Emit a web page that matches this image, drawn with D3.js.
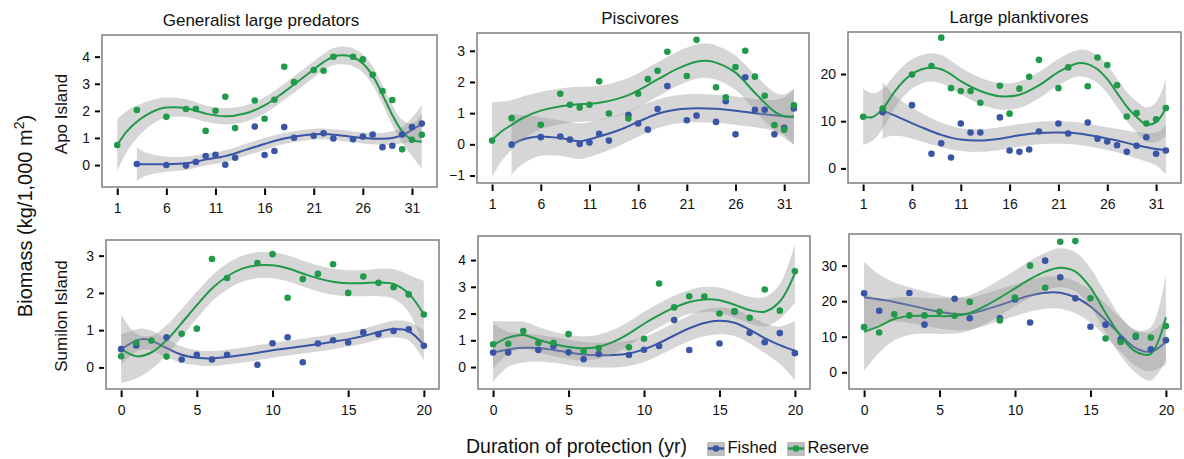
<!DOCTYPE html>
<html>
<head>
<meta charset="utf-8">
<script src="https://cdn.jsdelivr.net/npm/d3@7"></script>
<style>
  body { margin: 0; background: #fff; }
  svg { display: block; font-family: "Liberation Sans", Arial, Helvetica, sans-serif; }
</style>
</head>
<body>
<svg id="chart" width="1184" height="459"></svg>
<script>
// columns / rows of the grid
var groups = ["Generalist large predators", "Piscivores", "Large planktivores"];
var sites = ["Apo Island", "Sumilon Island"];
var seriesNames = ["Fished", "Reserve"];

// tick labels
var apoTicksX = [1, 6, 11, 16, 21, 26, 31];
var sumTicksX = [0, 5, 10, 15, 20];
var yTicks = [[0, 1, 2, 3, 4], [-1, 0, 1, 2, 3], [0, 10, 20], [0, 1, 2, 3], [0, 1, 2, 3, 4], [0, 10, 20, 30]];

// observed biomass, [year, value]
var apoPredFished = [[3,0.04],[6,0.0],[8,-0.02],[9,0.11],[10,0.33],[11,0.38],[12,0.01],[13,0.27],[15,1.42],[16,0.37],[17,0.52],[18,1.40],[19,1.01],[21,1.08],[22,1.17],[23,0.98],[25,0.95],[26,1.05],[27,1.13],[28,0.66],[29,0.71],[30,1.13],[31,1.40],[32,1.53]];
var apoPredReserve = [[1,0.74],[3,2.03],[6,1.78],[8,2.07],[9,2.07],[10,1.26],[11,2.0],[12,2.52],[13,1.37],[15,2.38],[16,1.71],[17,2.41],[18,3.63],[19,3.06],[21,3.51],[22,3.48],[23,4.0],[25,4.0],[26,3.9],[27,3.33],[28,2.73],[29,2.40],[30,0.58],[31,0.93],[32,1.12]];
var apoPiscFished = [[3,-0.01],[6,0.23],[8,0.25],[9,0.15],[10,0.01],[11,0.06],[12,0.34],[13,0.12],[15,0.94],[16,0.67],[17,0.47],[18,1.13],[19,1.87],[21,0.77],[22,0.92],[24,0.72],[25,1.38],[26,0.32],[27,2.15],[28,1.11],[29,1.11],[30,0.32],[31,0.53],[32,1.15]];
var apoPiscReserve = [[1,0.12],[3,0.84],[6,0.63],[8,1.62],[9,1.27],[10,1.18],[11,1.27],[12,2.02],[13,0.99],[15,0.83],[16,1.62],[17,2.09],[18,2.36],[19,2.97],[21,2.19],[22,3.35],[24,1.83],[25,1.51],[26,2.48],[27,3.0],[28,2.17],[29,1.56],[30,0.62],[31,0.47],[32,1.25]];
var apoPlankFished = [[3,11.9],[6,13.4],[8,3.1],[9,5.3],[10,2.3],[11,9.5],[12,7.6],[13,7.6],[15,10.8],[16,3.8],[17,3.5],[18,4.0],[19,7.8],[21,9.5],[22,7.4],[24,9.7],[25,6.3],[26,5.7],[27,4.9],[28,3.5],[29,4.8],[30,6.6],[31,3.1],[32,3.8]];
var apoPlankReserve = [[1,10.95],[3,12.7],[6,19.9],[8,21.7],[9,27.7],[10,17.0],[11,16.4],[12,16.4],[13,13.9],[15,17.5],[16,11.6],[17,16.9],[18,19.4],[19,23.0],[21,17.0],[22,21.4],[24,17.4],[25,23.5],[26,21.9],[27,17.6],[28,11.0],[29,11.7],[30,9.5],[31,10.4],[32,12.8]];
var sumPredFished = [[0,0.49],[1,0.59],[3,0.81],[4,0.21],[5,0.34],[6,0.21],[7,0.34],[9,0.07],[10,0.65],[11,0.81],[12,0.14],[13,0.64],[14,0.73],[15,0.67],[16,0.94],[17,0.89],[18,0.98],[19,1.02],[20,0.58]];
var sumPredReserve = [[0,0.30],[1,0.66],[2,0.72],[3,0.29],[4,0.90],[5,1.04],[6,2.91],[7,2.40],[9,2.80],[10,3.04],[11,1.87],[12,2.37],[13,2.51],[14,2.77],[15,2.0],[16,2.44],[17,2.27],[18,2.15],[19,1.96],[20,1.42]];
var sumPiscFished = [[0,0.54],[1,0.54],[3,0.64],[4,0.79],[5,0.55],[6,0.29],[7,0.49],[9,0.45],[10,0.65],[11,0.79],[12,1.76],[13,0.64],[15,0.88],[16,2.07],[17,1.28],[18,0.93],[19,1.27],[20,0.52]];
var sumPiscReserve = [[0,0.85],[1,0.87],[2,1.35],[3,0.9],[4,0.91],[5,1.23],[6,0.59],[7,0.71],[9,0.74],[10,1.06],[11,3.12],[12,2.23],[13,2.65],[14,2.64],[15,2.0],[16,2.09],[17,1.84],[18,2.9],[19,2.11],[20,3.58]];
var sumPlankFished = [[0,22.2],[1,17.3],[3,22.3],[4,13.4],[6,20.7],[7,15.2],[9,15.2],[10,20.5],[11,14.0],[12,31.4],[13,26.7],[14,20.8],[15,12.8],[16,13.4],[17,9.3],[18,10.0],[19,6.5],[20,9.0]];
var sumPlankReserve = [[0,12.7],[1,11.2],[2,16.3],[3,16.0],[4,16.0],[5,17.0],[6,15.9],[7,19.8],[9,14.6],[10,21.0],[11,30.0],[12,23.8],[13,36.7],[14,36.9],[15,20.8],[16,9.5],[17,8.5],[18,10.3],[19,9.8],[20,13.0]];

// smoothed trend, [year, fit, half-width of grey band]
var apoPredFishedFit = [[3,0.04,0.62],[4,0.03,0.42],[6,0.03,0.28],[8,0.07,0.25],[10,0.2,0.22],[12,0.33,0.22],[14,0.55,0.22],[16,0.78,0.22],[18,0.98,0.2],[20,1.1,0.2],[22,1.15,0.2],[24,1.08,0.2],[26,1.0,0.2],[28,0.97,0.22],[29,1.0,0.25],[30,1.1,0.3],[31,1.3,0.45],[32,1.52,0.7]];
var apoPredReserveFit = [[1,0.74,0.95],[2,1.25,0.75],[3,1.6,0.6],[4,1.85,0.5],[5,2.03,0.42],[6,2.12,0.37],[8,2.1,0.33],[10,1.9,0.3],[12,1.8,0.3],[14,1.9,0.3],[16,2.2,0.3],[18,2.7,0.3],[20,3.25,0.3],[22,3.8,0.3],[23,4.0,0.32],[24,4.05,0.33],[25,3.98,0.33],[26,3.75,0.33],[27,3.3,0.35],[28,2.6,0.35],[29,1.85,0.38],[30,1.25,0.42],[31,0.93,0.6],[32,0.86,1.0]];
var apoPiscFishedFit = [[3,0.0,0.97],[4,0.14,0.8],[5,0.22,0.7],[6,0.25,0.62],[8,0.2,0.57],[10,0.1,0.57],[12,0.25,0.55],[14,0.45,0.5],[16,0.72,0.48],[18,0.98,0.46],[20,1.12,0.45],[22,1.16,0.45],[24,1.14,0.45],[26,1.08,0.45],[28,1.0,0.45],[30,0.93,0.5],[31,0.9,0.6],[32,0.87,0.9]];
var apoPiscReserveFit = [[1,0.14,1.2],[2,0.42,0.95],[3,0.62,0.8],[4,0.82,0.7],[6,1.08,0.6],[9,1.26,0.57],[12,1.33,0.55],[15,1.58,0.55],[18,2.08,0.55],[20,2.42,0.55],[22,2.65,0.55],[23,2.68,0.55],[24,2.62,0.55],[26,2.3,0.55],[28,1.65,0.58],[30,1.05,0.62],[31,0.9,0.7],[32,0.9,0.9]];
var apoPlankFishedFit = [[3,12.3,6],[4,11.4,4.5],[5,10.5,3.7],[7,8.7,3.0],[9,7.1,2.6],[11,6.1,2.4],[13,5.9,2.4],[15,6.3,2.4],[17,7.0,2.4],[19,7.5,2.4],[21,7.6,2.4],[23,7.4,2.4],[25,6.7,2.4],[27,5.9,2.5],[29,4.9,2.8],[31,4.1,3.5],[32,3.9,5.2]];
var apoPlankReserveFit = [[1,10.95,6],[2,10.9,5],[3,12.6,4.2],[4,15.6,3.6],[5,18.2,3.3],[6,20.0,3.1],[7,21.0,3.0],[8,21.4,3.0],[9,21.0,3.0],[10,19.9,2.9],[11,18.5,2.8],[13,16.4,2.8],[15,15.3,2.8],[17,15.6,2.8],[19,17.6,2.8],[21,20.4,2.8],[23,22.3,2.8],[24,22.1,2.9],[25,21.0,2.9],[26,18.9,3.0],[27,16.0,3.0],[28,13.1,3.1],[29,10.9,3.3],[30,9.3,3.6],[31,9.8,4.2],[32,12.8,6]];
var sumPredFishedFit = [[0,0.49,0.4],[1,0.72,0.3],[1.5,0.76,0.28],[2,0.72,0.27],[3,0.52,0.25],[4,0.34,0.22],[5,0.26,0.2],[6,0.24,0.2],[8,0.33,0.2],[10,0.46,0.2],[12,0.57,0.2],[14,0.69,0.2],[16,0.84,0.2],[17,0.95,0.2],[18,1.03,0.22],[19,0.97,0.25],[20,0.6,0.4]];
var sumPredReserveFit = [[0,0.5,0.92],[1,0.3,0.6],[2,0.4,0.45],[3,0.73,0.4],[4,1.19,0.38],[5,1.67,0.36],[6,2.12,0.35],[7,2.44,0.35],[8,2.65,0.35],[9,2.74,0.35],[10,2.74,0.35],[11,2.66,0.35],[12,2.52,0.35],[13,2.39,0.35],[14,2.3,0.35],[15,2.26,0.35],[16,2.26,0.35],[17,2.28,0.37],[18,2.24,0.4],[19,1.98,0.5],[20,1.42,0.9]];
var sumPiscFishedFit = [[0,0.54,1.1],[1,0.66,0.65],[2,0.72,0.55],[3,0.71,0.5],[4,0.64,0.48],[5,0.55,0.47],[6,0.47,0.47],[7,0.45,0.47],[8,0.45,0.47],[9,0.51,0.47],[10,0.66,0.47],[11,0.9,0.47],[12,1.18,0.47],[13,1.45,0.48],[14,1.65,0.5],[15,1.73,0.5],[16,1.66,0.5],[17,1.4,0.52],[18,1.08,0.55],[19,0.82,0.7],[20,0.61,1.1]];
var sumPiscReserveFit = [[0,0.82,0.9],[1,1.1,0.6],[2,1.2,0.5],[3,1.02,0.48],[4,0.86,0.46],[5,0.75,0.45],[6,0.7,0.45],[7,0.76,0.45],[8,0.95,0.45],[9,1.25,0.45],[10,1.62,0.45],[11,1.94,0.45],[12,2.22,0.45],[13,2.43,0.45],[14,2.53,0.47],[15,2.5,0.47],[16,2.33,0.48],[17,2.13,0.5],[18,2.07,0.55],[19,2.45,0.65],[20,3.5,1.1]];
var sumPlankFishedFit = [[0,21.1,10],[1,20.5,7],[2,19.8,5.5],[4,17.9,4.8],[5,17.0,4.7],[6,16.4,4.6],[7,16.5,4.5],[8,17.6,4.5],[9,18.9,4.5],[10,20.3,4.5],[11,21.6,4.5],[12,22.4,4.5],[13,22.4,4.5],[14,21.1,4.5],[15,18.5,4.5],[16,14.7,4.6],[17,10.5,4.7],[18,6.8,5],[19,5.8,5.5],[20,8.6,6.5]];
var sumPlankReserveFit = [[0,11.4,11],[1,13.0,7.5],[2,15.0,6],[3,15.8,5.3],[4,15.9,5],[5,15.8,5],[6,15.9,5],[7,16.7,5],[8,18.6,5],[9,21.0,5],[10,23.6,5],[11,26.2,5.2],[12,28.3,5.3],[13,29.4,5.5],[14,28.3,5.5],[15,23.8,5.5],[16,16.7,5.5],[17,10.2,5.5],[18,5.8,6],[19,5.2,7.5],[20,15.5,12]];

var colors = ["#3a55a5", "#21994a"];

// panel boxes in pixels and y limits (row major)
var panels = [
  {x0: 102, x1: 437, y0: 35, y1: 187, xd: [-0.55, 33.55], yd: [-0.81, 4.80], tx: 261, pts: [apoPredFished, apoPredReserve], fit: [apoPredFishedFit, apoPredReserveFit]},
  {x0: 477, x1: 809, y0: 33, y1: 183, xd: [-0.55, 33.55], yd: [-1.24, 3.57], tx: 640, pts: [apoPiscFished, apoPiscReserve], fit: [apoPiscFishedFit, apoPiscReserveFit]},
  {x0: 848, x1: 1181, y0: 32, y1: 183, xd: [-0.55, 33.55], yd: [-3.1, 28.9], tx: 1019, pts: [apoPlankFished, apoPlankReserve], fit: [apoPlankFishedFit, apoPlankReserveFit]},
  {x0: 106, x1: 439, y0: 240, y1: 389, xd: [-1, 21], yd: [-0.58, 3.42], pts: [sumPredFished, sumPredReserve], fit: [sumPredFishedFit, sumPredReserveFit]},
  {x0: 478, x1: 810, y0: 236, y1: 389, xd: [-1, 21], yd: [-0.82, 4.9], pts: [sumPiscFished, sumPiscReserve], fit: [sumPiscFishedFit, sumPiscReserveFit]},
  {x0: 849, x1: 1181, y0: 234, y1: 389, xd: [-1, 21], yd: [-4.7, 38.9], pts: [sumPlankFished, sumPlankReserve], fit: [sumPlankFishedFit, sumPlankReserveFit]}
];

var svg = d3.select("#chart");

panels.forEach(function (p, i) {
  var x = d3.scaleLinear().domain(p.xd).range([p.x0, p.x1]);
  var y = d3.scaleLinear().domain(p.yd).range([p.y1, p.y0]);
  var g = svg.append("g");

  var clipId = "clip" + i;
  g.append("clipPath").attr("id", clipId).append("rect")
    .attr("x", p.x0).attr("y", p.y0).attr("width", p.x1 - p.x0).attr("height", p.y1 - p.y0);
  var plot = g.append("g").attr("clip-path", "url(#" + clipId + ")");

  var band = d3.area().curve(d3.curveCatmullRom.alpha(0.5))
    .x(function (d) { return x(d[0]); })
    .y0(function (d) { return y(d[1] - d[2]); })
    .y1(function (d) { return y(d[1] + d[2]); });
  var line = d3.line().curve(d3.curveCatmullRom.alpha(0.5))
    .x(function (d) { return x(d[0]); })
    .y(function (d) { return y(d[1]); });

  // fished band+line first, reserve band drawn over it
  p.fit.forEach(function (f, k) {
    plot.append("path").attr("d", band(f))
      .attr("fill", "#999999").attr("fill-opacity", 0.4);
    plot.append("path").attr("d", line(f))
      .attr("fill", "none").attr("stroke", colors[k]).attr("stroke-width", 2);
  });

  p.pts.forEach(function (s, k) {
    plot.selectAll(null).data(s).enter().append("circle")
      .attr("cx", function (d) { return x(d[0]); })
      .attr("cy", function (d) { return y(d[1]); })
      .attr("r", 3.3)
      .attr("fill", colors[k]);
  });

  g.append("rect")
    .attr("x", p.x0).attr("y", p.y0).attr("width", p.x1 - p.x0).attr("height", p.y1 - p.y0)
    .attr("fill", "none").attr("stroke", "#7f7f7f").attr("stroke-width", 1.5);

  // axes
  var ay = g.append("g").attr("transform", "translate(" + (p.x0 - 2) + ",0)")
    .call(d3.axisLeft(y).tickValues(yTicks[i]).tickSize(5).tickPadding(5).tickFormat(d3.format("d")));
  var ax = g.append("g").attr("transform", "translate(0," + (p.y1 + 1.5) + ")")
    .call(d3.axisBottom(x).tickValues(i < 3 ? apoTicksX : sumTicksX).tickSize(6.5).tickPadding(8));
  [ax, ay].forEach(function (a) {
    a.select(".domain").remove();
    a.selectAll(".tick line").attr("stroke", "#000").attr("stroke-width", 2);
    a.selectAll(".tick text").attr("fill", "#111").style("font-size", "14px")
      .style("font-family", "'Liberation Sans', Arial, Helvetica, sans-serif");
  });
  ay.selectAll(".tick text").text(function (d) { return d < 0 ? "\u2212" + Math.abs(d) : d; });

  if (i < 3) {
    svg.append("text").attr("x", p.tx).attr("y", p.y0 - 9.5)
      .attr("text-anchor", "middle").style("font-size", "17px").attr("fill", "#111")
      .text(groups[i]);
  }
});

// row strip labels
[[66.5, 114], [66.5, 316]].forEach(function (pos, r) {
  svg.append("text")
    .attr("transform", "translate(" + pos[0] + "," + pos[1] + ") rotate(-90)")
    .attr("text-anchor", "middle").style("font-size", "17px").attr("fill", "#111")
    .text(sites[r]);
});

// y axis title
var yt = svg.append("text")
  .attr("transform", "translate(31.5,216) rotate(-90)")
  .attr("text-anchor", "middle").style("font-size", "20px").attr("fill", "#111");
yt.append("tspan").text("Biomass (kg/1,000 m");
yt.append("tspan").attr("dy", -8).style("font-size", "14px").text("2");
yt.append("tspan").attr("dy", 8).text(")");

// x axis title + legend
svg.append("text").attr("x", 576.5).attr("y", 452.5)
  .attr("text-anchor", "middle").style("font-size", "19.5px").attr("fill", "#111")
  .text("Duration of protection (yr)");

var keyX = [707, 787];
seriesNames.forEach(function (name, k) {
  var kg = svg.append("g").attr("transform", "translate(" + keyX[k] + ",442)");
  kg.append("rect").attr("width", 18).attr("height", 14).attr("fill", "#bfbfbf");
  kg.append("line").attr("x1", 1).attr("x2", 17).attr("y1", 6.5).attr("y2", 6.5)
    .attr("stroke", colors[k]).attr("stroke-width", 2.5);
  kg.append("circle").attr("cx", 9).attr("cy", 6.5).attr("r", 3.3).attr("fill", colors[k]);
  kg.append("text").attr("x", 20.5).attr("y", 10.5)
    .style("font-size", "16.5px").attr("fill", "#111").text(name);
});
</script>
</body>
</html>
